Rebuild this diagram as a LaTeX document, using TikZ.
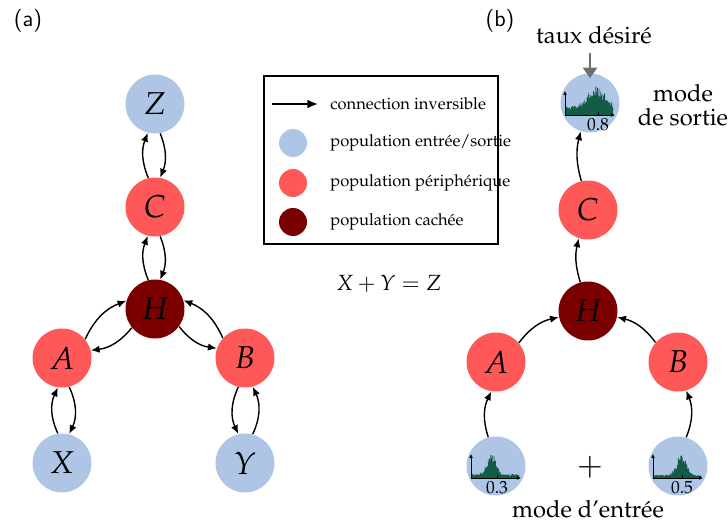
\documentclass[tikz,border=0pt]{standalone}
\usepackage[T1]{fontenc}
\usepackage{mathpazo}
\usepackage{tikz}
\usetikzlibrary{arrows.meta, calc}

\definecolor{bleuES}{RGB}{174,197,230}
\definecolor{rouge}{RGB}{255,88,88}
\definecolor{bordeaux}{RGB}{122,0,0}
\definecolor{vertH}{RGB}{18,92,70}
\definecolor{gris}{RGB}{110,110,110}

\tikzset{
	pop/.style={circle, minimum size=1.18cm, inner sep=0pt, font=\fontsize{18}{20}\selectfont},
	popES/.style={pop, fill=bleuES},
	popP/.style={pop, fill=rouge},
	popC/.style={pop, fill=bordeaux},
	conn/.style={-{Latex[length=5pt, width=4.2pt]}, thick},
	legende/.style={anchor=west, inner sep=0pt, font=\fontsize{9.4}{11}\selectfont},
	grand/.style={font=\fontsize{13.5}{16}\selectfont},
	titre/.style={font=\usefont{TU}{lmss}{m}{n}\fontsize{13}{15}\selectfont},
	axe/.style={line width=0.5pt, -{Latex[length=2.2pt, width=2.2pt]}},
	valeur/.style={inner sep=0pt, font=\fontsize{10}{11}\selectfont}
}

% histogramme dans un noeud : #1 noeud, #2 pic, #3 largeur, #4 fond, #5 graduation, #6 valeur
\newcommand{\histogramme}[6]{%
	\begin{scope}[shift={(#1)}]
		\fill[vertH] (-24,12) -- plot[const plot, domain=-24:23, samples=60]
			(\x, {12 - ((#4) + 20*exp(-((\x-(#2))/(#3))^2))*(0.6+0.45*rnd)}) -- (23,12) -- cycle;
		\draw[axe] (-25,12) -- (25,12);
		\draw[axe] (-25,12) -- (-25,-12);
		\draw[line width=0.5pt] (#5,12) -- (#5,9);
		\node[valeur] at (#5,22) {#6};
	\end{scope}}

\begin{document}
\begin{tikzpicture}[x=0.02cm, y=-0.02cm, >=latex]
	\useasboundingbox (0,0) rectangle (728,524);

	\node[titre] (titreA) at (28,21) {(a)};
	\node[titre] (titreB) at (500,21) {(b)};

	% (a) reseau complet
	\node (Z) at (155,104) [popES] {$Z$};
	\node (C) at (155,207) [popP] {$C$};
	\node (H) at (155,309) [popC] {$H$};
	\node (A) at (62,358) [popP] {$A$};
	\node (B) at (245,358) [popP] {$B$};
	\node (X) at (62,463) [popES] {$X$};
	\node (Y) at (245,463) [popES] {$Y$};

	\draw [conn] (C.103) to [bend left=22] (Z.256);
	\draw [conn] (Z.-80) to [bend left=22] (C.80);
	\draw [conn] (H.103) to [bend left=22] (C.256);
	\draw [conn] (C.-80) to [bend left=22] (H.80);
	\draw [conn] (A.39) to [bend left=22] (H.164);
	\draw [conn] (H.219) to [bend left=22] (A.15);
	\draw [conn] (H.-36) to [bend right=22] (B.161);
	\draw [conn] (B.138) to [bend right=22] (H.17);
	\draw [conn] (X.98) to [bend left=25] (A.262);
	\draw [conn] (A.-76) to [bend left=25] (X.76);
	\draw [conn] (B.257) to [bend right=25] (Y.103);
	\draw [conn] (Y.75) to [bend right=25] (B.-75);

	% legende
	\draw [line width=1.1pt] (264,76) rectangle (498,244);
	\coordinate (legG) at (272,104);
	\coordinate (legD) at (318,104);
	\draw [-{Latex[length=6pt, width=5pt]}, line width=1.1pt] (legG) -- (legD);
	\node (legConn) at (330,104) [legende] {connection inversible};
	\node (legES) at (293,143) [popES, minimum size=0.56cm] {};
	\node (legP) at (293,183) [popP, minimum size=0.56cm] {};
	\node (legC) at (293,222) [popC, minimum size=0.56cm] {};
	\node at (330,143) [legende] {population entrée/sortie};
	\node at (330,183) [legende] {population périphérique};
	\node at (330,222) [legende] {population cachée};

	\node (somme) at (389,284) [font=\fontsize{12.5}{15}\selectfont] {$X+Y=Z$};

	% (b) modes d'entree et de sortie
	\node (sortie) at (590,103) [popES] {};
	\node (Cb) at (588,210) [popP] {$C$};
	\node (Hb) at (588,311) [popC] {$H$};
	\node (Ab) at (496,362) [popP] {$A$};
	\node (Bb) at (678,362) [popP] {$B$};
	\node (entA) at (496,466) [popES] {};
	\node (entB) at (678,466) [popES] {};

	\pgfmathsetseed{11}
	\histogramme{sortie}{6}{14}{8}{8}{0.8}
	\pgfmathsetseed{5}
	\histogramme{entA}{-5}{6}{4}{1}{0.3}
	\pgfmathsetseed{23}
	\histogramme{entB}{3}{7}{3}{4}{0.5}

	\draw [conn] (Cb.103) to [bend left=15] (sortie.252);
	\draw [conn] (Hb.105) to [bend left=15] (Cb.252);
	\draw [conn] (Ab.40) to [bend left=20] (Hb.192);
	\draw [conn] (Bb.139) to [bend right=20] (Hb.-12);
	\draw [conn] (entA.105) to [bend left=22] (Ab.261);
	\draw [conn] (entB.74) to [bend right=22] (Bb.-74);

	\node (taux) at (594,35) [grand] {taux désiré};
	\draw [gris, line width=1.6pt, -{Triangle[length=6pt, width=8pt]}] (taux.south -| sortie.north) ++(0,3) -- ($(sortie.north)+(0,5)$);

	\node (modeS) at (683,105) [grand, align=center] {mode\\[-2pt]de sortie};
	\node (plus) at (590,467) [font=\fontsize{18}{20}\selectfont] {$+$};
	\node (modeE) at (588,509) [grand] {mode d'entrée};
\end{tikzpicture}
\end{document}
